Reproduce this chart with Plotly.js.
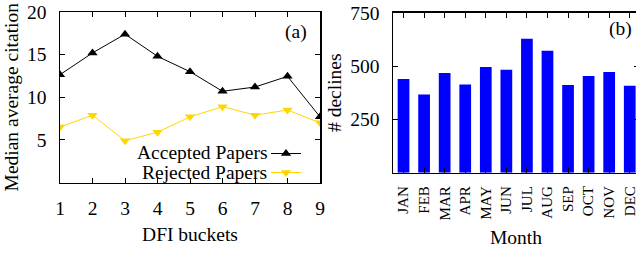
<!DOCTYPE html>
<html>
<head>
<meta charset="utf-8">
<script src="https://cdn.plot.ly/plotly-3.0.1.min.js"></script>
<style>html,body{margin:0;padding:0;overflow:hidden;background:#fff;}</style>
</head>
<body>
<div id="chart" style="width:640px;height:253px;"></div>
<script>
// ---- data ----
const dfiBuckets = [1, 2, 3, 4, 5, 6, 7, 8, 9];
const acceptedPapers = [12.65, 15.2, 17.4, 14.8, 13.0, 10.7, 11.2, 12.45, 7.7];
const rejectedPapers = [6.5, 7.9, 4.9, 5.9, 7.7, 8.9, 7.9, 8.5, 7.0];
const months = ['JAN','FEB','MAR','APR','MAY','JUN','JUL','AUG','SEP','OCT','NOV','DEC'];
const declines = [439, 367, 467, 414, 495, 483, 628, 572, 411, 453, 472, 408];
const seriesNames = ['Accepted Papers', 'Rejected Papers'];

const W = 640, H = 253;
const px = v => v / W;
const py = v => 1 - v / H;
const FONT = 'Liberation Serif, Times New Roman, serif';
const FS = 19.5;

const traces = [
  {x: dfiBuckets, y: acceptedPapers, name: seriesNames[0], type: 'scatter', mode: 'lines+markers',
   line: {color: '#000000', width: 1}, marker: {symbol: 'triangle-up', size: 9, color: '#000000'},
   xaxis: 'x', yaxis: 'y'},
  {x: dfiBuckets, y: rejectedPapers, name: seriesNames[1], type: 'scatter', mode: 'lines+markers',
   line: {color: '#FFD700', width: 1}, marker: {symbol: 'triangle-down', size: 9, color: '#FFD700'},
   xaxis: 'x', yaxis: 'y'},
  {x: months, y: declines, name: '# declines', type: 'bar', showlegend: false,
   marker: {color: '#0000FF', line: {width: 0}}, width: 0.57,
   xaxis: 'x2', yaxis: 'y2'}
];

const axisCommon = {
  showline: true, linecolor: '#000', linewidth: 1.5, mirror: 'ticks',
  ticks: 'inside', ticklen: 5, tickcolor: '#000', tickwidth: 1,
  showgrid: false, zeroline: false, automargin: false,
  tickfont: {family: FONT, size: FS, color: '#000'}
};

const layout = {
  width: W, height: H,
  margin: {l: 0, r: 0, t: 0, b: 0},
  paper_bgcolor: '#fff', plot_bgcolor: '#fff',
  font: {family: FONT, size: FS, color: '#000'},
  showlegend: true,
  legend: {x: px(266), y: py(139), xanchor: 'left', yanchor: 'top',
           bgcolor: 'rgba(0,0,0,0)', borderwidth: 0,
           font: {size: 1, color: 'rgba(0,0,0,0)'}, tracegroupgap: 0, itemwidth: 30},
  xaxis: Object.assign({}, axisCommon, {
    domain: [px(60), px(320)], range: [1, 9], tickvals: dfiBuckets,
    ticklabelstandoff: 8,
    title: {text: 'DFI buckets', font: {family: FONT, size: FS}, standoff: 9},
    anchor: 'y'
  }),
  yaxis: Object.assign({}, axisCommon, {
    domain: [py(182.5), py(12)], range: [0, 20], tickvals: [5, 10, 15, 20],
    ticklabelstandoff: 8,
    title: {text: 'Median average citation', font: {family: FONT, size: FS}, standoff: 3},
    anchor: 'x'
  }),
  xaxis2: Object.assign({}, axisCommon, {
    domain: [px(393), px(639)], range: [-0.512, 11.45], type: 'category',
    tickangle: -90, ticklabelstandoff: 6,
    tickfont: {family: FONT, size: 15, color: '#000'},
    title: {text: 'Month', font: {family: FONT, size: FS}, standoff: 11},
    anchor: 'y2'
  }),
  yaxis2: Object.assign({}, axisCommon, {
    domain: [py(172.7), py(12.7)], range: [0, 750], tickvals: [250, 500, 750],
    ticklabelstandoff: 8,
    title: {text: '# declines', font: {family: FONT, size: FS}, standoff: 3},
    anchor: 'x2'
  }),
  annotations: [
    {text: '(a)', xref: 'paper', yref: 'paper', x: px(296), y: py(32), xanchor: 'center', yanchor: 'middle',
     showarrow: false, font: {family: FONT, size: FS, color: '#000'}},
    {text: '(b)', xref: 'paper', yref: 'paper', x: px(620), y: py(29), xanchor: 'center', yanchor: 'middle',
     showarrow: false, font: {family: FONT, size: FS, color: '#000'}},
    {text: seriesNames[0], xref: 'paper', yref: 'paper', x: px(269), y: py(152), xanchor: 'right', yanchor: 'middle',
     showarrow: false, font: {family: FONT, size: FS, color: '#000'}},
    {text: seriesNames[1], xref: 'paper', yref: 'paper', x: px(269), y: py(172), xanchor: 'right', yanchor: 'middle',
     showarrow: false, font: {family: FONT, size: FS, color: '#000'}}
  ],
  bargap: 0.43
};

Plotly.newPlot('chart', traces, layout, {displayModeBar: false, staticPlot: true});
</script>
</body>
</html>
